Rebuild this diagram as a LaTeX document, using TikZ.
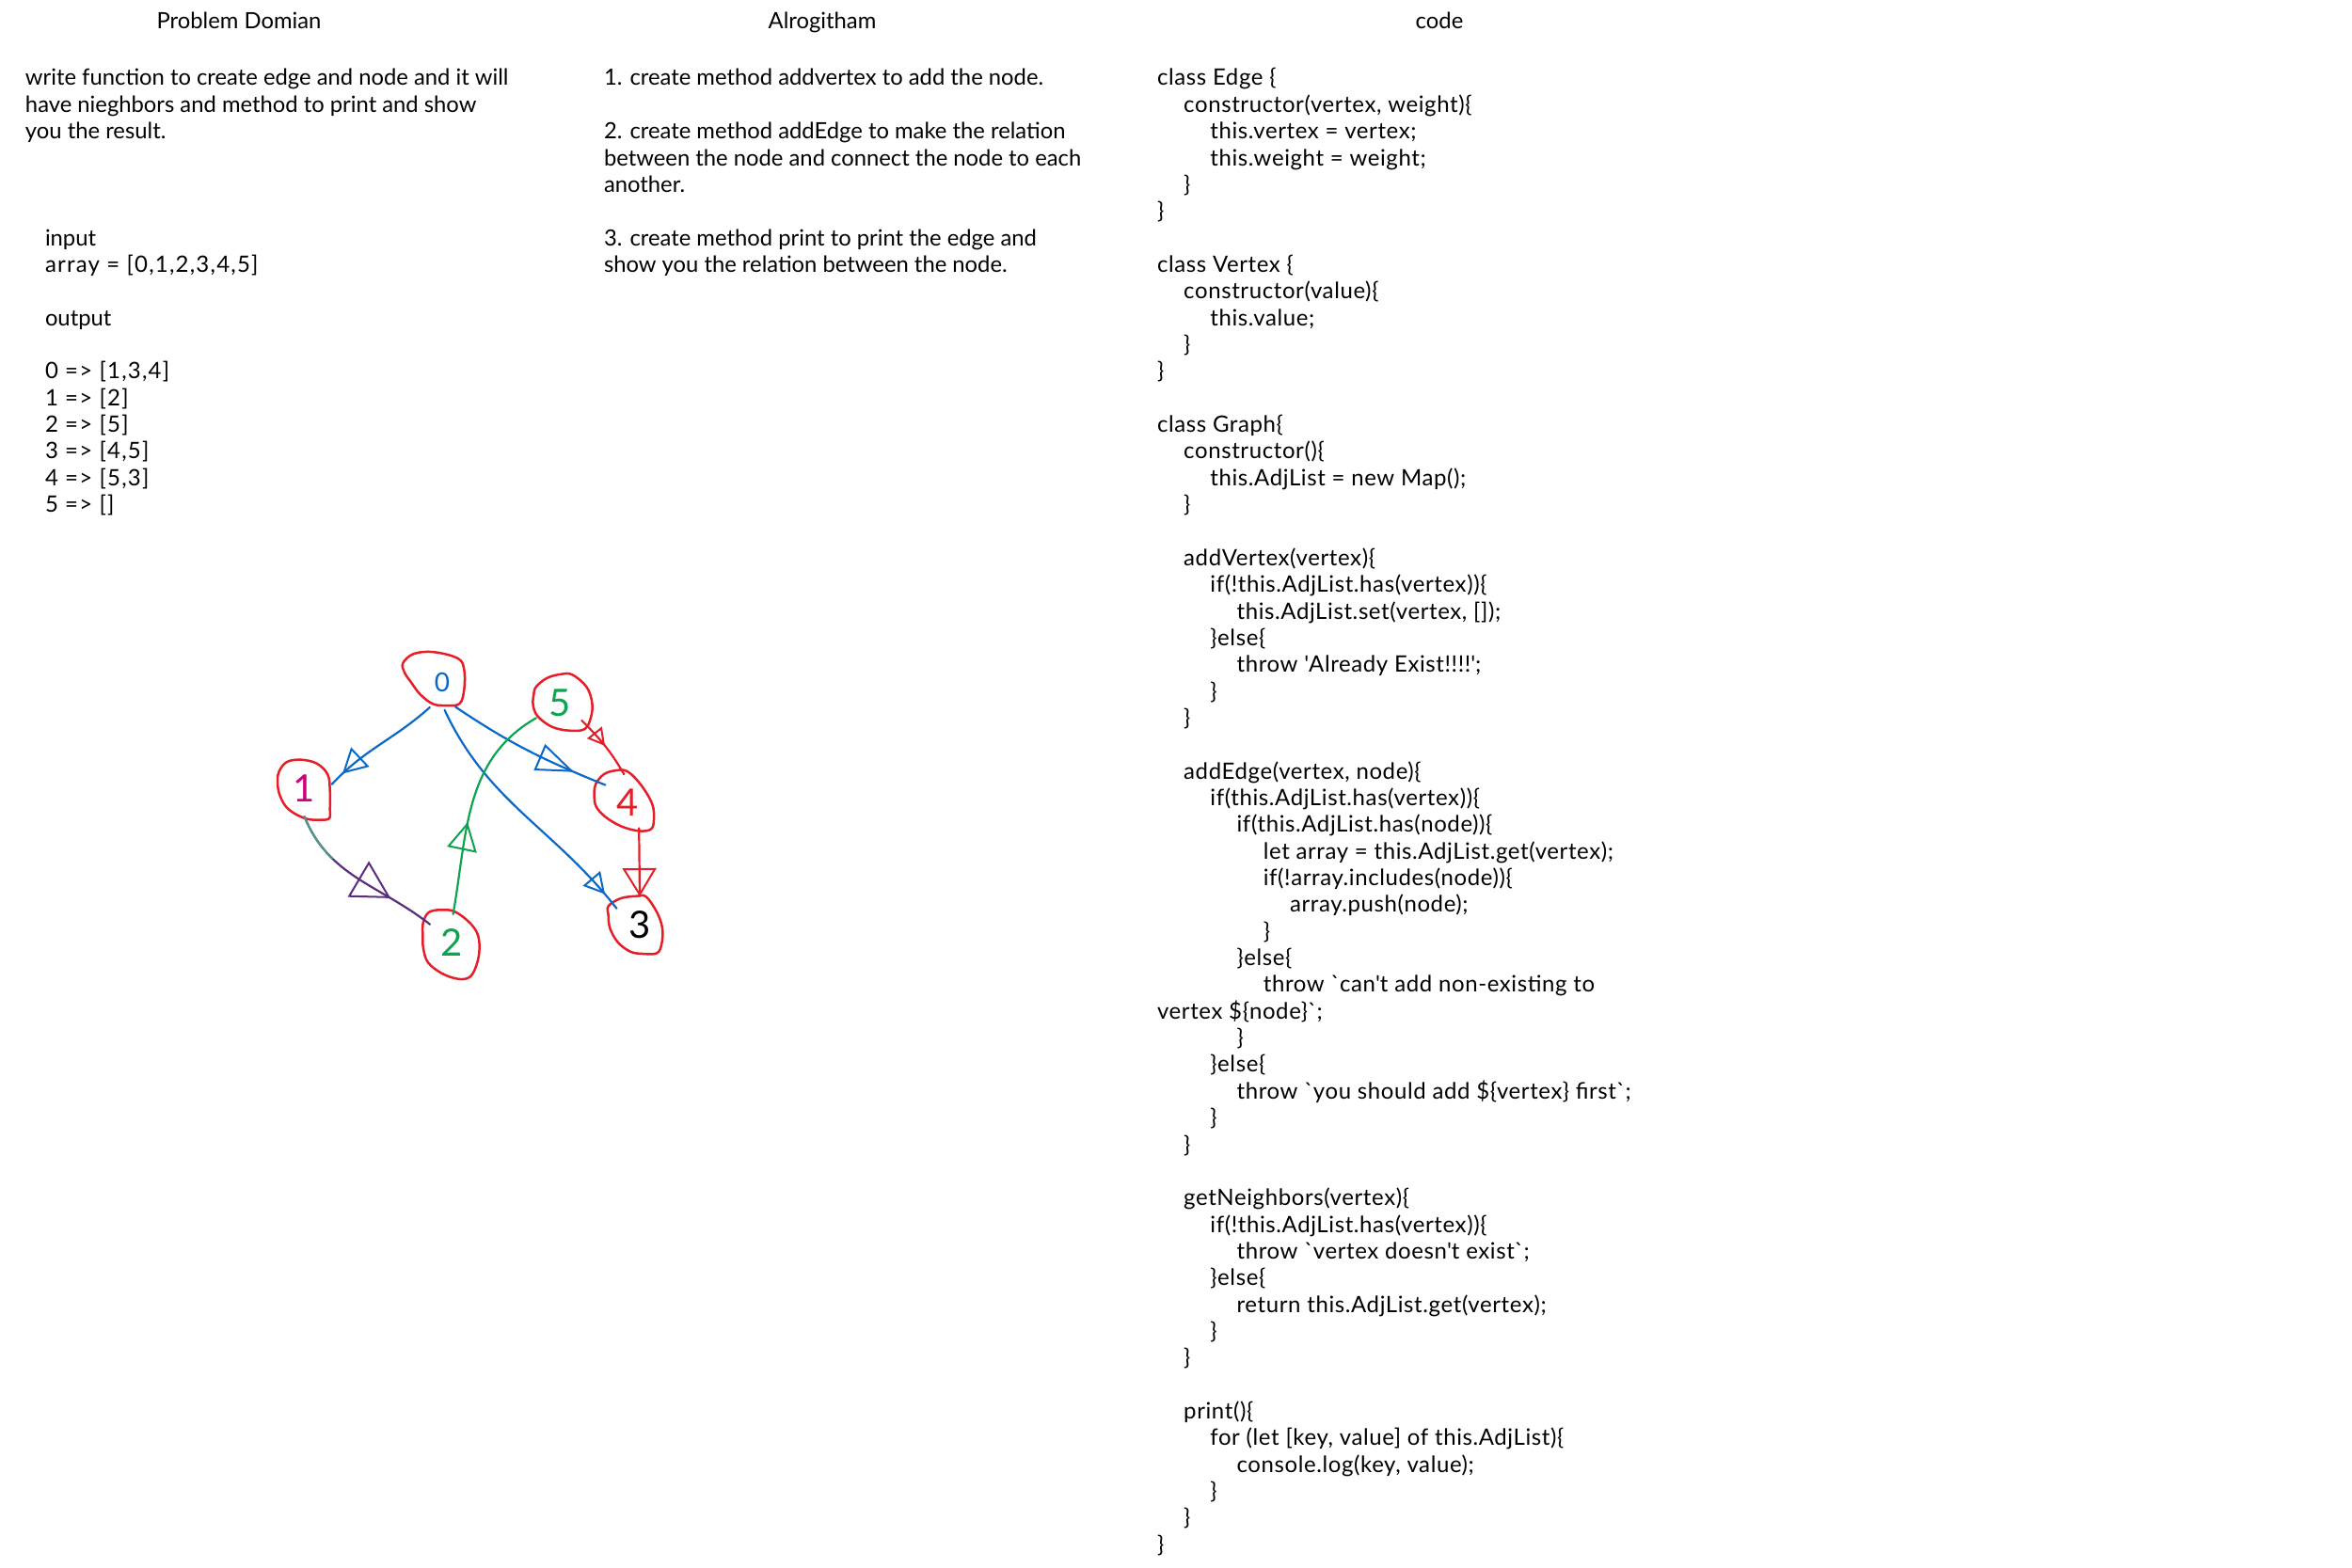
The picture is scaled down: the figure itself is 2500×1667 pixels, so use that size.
\documentclass[tikz,border=0pt]{standalone}
\usepackage{fontspec}
\setmainfont{Lato}
\newfontfamily\codefont{Lato}[LetterSpace=2.5]
\newfontfamily\numfont{Lato}[LetterSpace=5]
\usetikzlibrary{arrows.meta,decorations.markings}
\definecolor{nred}{RGB}{230,30,40}
\definecolor{nblue}{RGB}{10,105,200}
\definecolor{ngreen}{RGB}{14,163,80}
\definecolor{npurple}{RGB}{90,45,130}
\definecolor{nteal}{RGB}{85,150,140}
\definecolor{nmag}{RGB}{205,0,125}
\tikzset{
  txt/.style={anchor=base west, inner sep=0pt, outer sep=0pt, text=black, font=\fontsize{23.8}{28}\selectfont},
  numtxt/.style={anchor=base west, inner sep=0pt, outer sep=0pt, text=black, font=\numfont\fontsize{24}{28}\selectfont},
  codetxt/.style={anchor=base west, inner sep=0pt, outer sep=0pt, text=black, font=\codefont\fontsize{24}{28}\selectfont},
  ttl/.style={anchor=base, inner sep=0pt, outer sep=0pt, text=black, font=\fontsize{23.8}{28}\selectfont},
  gnode/.style={circle, minimum size=60pt, inner sep=0pt, outer sep=0pt, font=\fontsize{40}{40}\selectfont},
  blob/.style={draw=nred, line width=2.5pt, line join=round},
  edge/.style={line width=2.2pt, line cap=round},
  amark/.style args={#1/#2/#3}{postaction={decorate}, decoration={markings,
     mark=at position #1 with {\arrow[line width=2pt]{Triangle[open,length=#2pt,width=#3pt]}}}}
}
\newcommand\cdl[4]{\node[codetxt] (#1) at ({1230+28.2*#3},{91+28.35*#2}) {#4};}
\begin{document}
\begin{tikzpicture}[x={(1pt,0)}, y={(0,-1pt)}]
\useasboundingbox[fill=white] (0,0) rectangle (2500,1667);

% ---------- titles ----------
\node[ttl] (tpd) at (254,31) {Problem Domian};
\node[ttl] (talg) at (874,31) {Alrogitham};
\node[ttl] (tcode) at (1530,31) {code};

% ---------- problem domain ----------
\node[txt] (p1) at (27,91) {write function to create edge and node and it will};
\node[txt] (p2) at (27,119.35) {have nieghbors and method to print and show};
\node[txt] (p3) at (27,147.7) {you the result.};
\node[txt] (in1) at (48,261.1) {input};
\node[numtxt] (in2) at (48,289.45) {array = [0,1,2,3,4,5]};
\node[txt] (out0) at (48,346.15) {output};
\node[numtxt] (o0) at (48,402.85) {0 => [1,3,4]};
\node[numtxt] (o1) at (48,431.2) {1 => [2]};
\node[numtxt] (o2) at (48,459.55) {2 => [5]};
\node[numtxt] (o3) at (48,487.9) {3 => [4,5]};
\node[numtxt] (o4) at (48,516.25) {4 => [5,3]};
\node[numtxt] (o5) at (48,544.6) {5 => []};

% ---------- algorithm ----------
\node[txt] (a1) at (642,91) {1. create method addvertex to add the node.};
\node[txt] (a2) at (642,147.7) {2. create method addEdge to make the relation};
\node[txt] (a3) at (642,176.05) {between the node and connect the node to each};
\node[txt] (a4) at (642,204.4) {another.};
\node[txt] (a5) at (642,261.1) {3. create method print to print the edge and};
\node[txt] (a6) at (642,289.45) {show you the relation between the node.};

% ---------- code ----------
\cdl{c0}{0}{0}{class Edge \{}
\cdl{c1}{1}{1}{constructor(vertex, weight)\{}
\cdl{c2}{2}{2}{this.vertex = vertex;}
\cdl{c3}{3}{2}{this.weight = weight;}
\cdl{c4}{4}{1}{\}}
\cdl{c5}{5}{0}{\}}
\cdl{c7}{7}{0}{class Vertex \{}
\cdl{c8}{8}{1}{constructor(value)\{}
\cdl{c9}{9}{2}{this.value;}
\cdl{c10}{10}{1}{\}}
\cdl{c11}{11}{0}{\}}
\cdl{c13}{13}{0}{class Graph\{}
\cdl{c14}{14}{1}{constructor()\{}
\cdl{c15}{15}{2}{this.AdjList = new Map();}
\cdl{c16}{16}{1}{\}}
\cdl{c18}{18}{1}{addVertex(vertex)\{}
\cdl{c19}{19}{2}{if(!this.AdjList.has(vertex))\{}
\cdl{c20}{20}{3}{this.AdjList.set(vertex, []);}
\cdl{c21}{21}{2}{\}else\{}
\cdl{c22}{22}{3}{throw \textquotesingle Already Exist!!!!\textquotesingle;}
\cdl{c23}{23}{2}{\}}
\cdl{c24}{24}{1}{\}}
\cdl{c26}{26}{1}{addEdge(vertex, node)\{}
\cdl{c27}{27}{2}{if(this.AdjList.has(vertex))\{}
\cdl{c28}{28}{3}{if(this.AdjList.has(node))\{}
\cdl{c29}{29}{4}{let array = this.AdjList.get(vertex);}
\cdl{c30}{30}{4}{if(!array.includes(node))\{}
\cdl{c31}{31}{5}{array.push(node);}
\cdl{c32}{32}{4}{\}}
\cdl{c33}{33}{3}{\}else\{}
\cdl{c34}{34}{4}{throw \textasciigrave can\textquotesingle t add non-existing to}
\cdl{c35}{35}{0}{vertex \$\{node\}\textasciigrave;}
\cdl{c36}{36}{3}{\}}
\cdl{c37}{37}{2}{\}else\{}
\cdl{c38}{38}{3}{throw \textasciigrave you should add \$\{vertex\} first\textasciigrave;}
\cdl{c39}{39}{2}{\}}
\cdl{c40}{40}{1}{\}}
\cdl{c42}{42}{1}{getNeighbors(vertex)\{}
\cdl{c43}{43}{2}{if(!this.AdjList.has(vertex))\{}
\cdl{c44}{44}{3}{throw \textasciigrave vertex doesn\textquotesingle t exist\textasciigrave;}
\cdl{c45}{45}{2}{\}else\{}
\cdl{c46}{46}{3}{return this.AdjList.get(vertex);}
\cdl{c47}{47}{2}{\}}
\cdl{c48}{48}{1}{\}}
\cdl{c50}{50}{1}{print()\{}
\cdl{c51}{51}{2}{for (let [key, value] of this.AdjList)\{}
\cdl{c52}{52}{3}{console.log(key, value);}
\cdl{c53}{53}{2}{\}}
\cdl{c54}{54}{1}{\}}
\cdl{c55}{55}{0}{\}}

% ---------- graph nodes ----------
\node[gnode, text=nblue, font=\fontsize{28}{28}\selectfont] (n0) at (470,725) {0};
\node[gnode, text=nmag] (n1) at (323,838) {1};
\node[gnode, text=ngreen] (n2) at (480,1002) {2};
\node[gnode, text=black] (n3) at (680,983) {3};
\node[gnode, text=nred] (n4) at (667,853) {4};
\node[gnode, text=ngreen] (n5) at (595,747) {5};

% hand-drawn outlines
\draw[blob] plot[smooth cycle, tension=0.6] coordinates {(428.3,705) (440,695) (461.7,693.3) (486.7,700) (493.3,711.7) (493.3,733.3) (488.3,748.3) (473.3,750) (460,748.3) (446.7,738.3) (436.7,725) (430,715)};
\draw[blob] plot[smooth cycle, tension=0.6] coordinates {(296.7,820) (305,810) (320,807.7) (336.7,811.7) (348.3,823.3) (350.7,840) (350.7,860) (350,870) (340,871.7) (326.7,870.7) (313.3,865) (303.3,856.7) (296.7,843.3) (295,830)};
\draw[blob] plot[smooth cycle, tension=0.6] coordinates {(450,980) (456.7,969.3) (473.3,967.3) (485,970) (500,981.7) (508.3,995) (509.3,1013.3) (505,1030) (498.3,1039.3) (486.7,1040.7) (470,1035) (455,1023.3) (450,1008.3) (449.3,993.3)};
\draw[blob] plot[smooth cycle, tension=0.6] coordinates {(646.7,963.3) (660,955) (676.7,952.7) (686.7,953.3) (698.3,970) (704,986.7) (703.3,1003.3) (698.3,1013.3) (683.3,1014) (670,1011.7) (656.7,1001.7) (648.3,986.7) (646.7,973.3)};
\draw[blob] plot[smooth cycle, tension=0.6] coordinates {(633.3,833.3) (641.7,823.3) (653.3,819.3) (666.7,820) (681.7,835) (693.3,855) (695,871.7) (691.7,881.7) (678.3,883.3) (660,878.3) (643.3,868.3) (633.3,856.7) (631.7,843.3)};
\draw[blob] plot[smooth cycle, tension=0.6] coordinates {(570,730) (581.7,720.7) (596.7,716.7) (608.3,717.3) (623.3,730) (629.3,746.7) (628.3,761.7) (621.7,775) (605,776.7) (586.7,772.7) (571.7,761.7) (566.7,750) (567.3,738.3)};

% ---------- connectors ----------
\draw[edge, nblue, amark={0.88/26/28}] (n0.-116) to[out=-138,in=47] (n1.8);
\draw[edge, nblue, amark={0.93/22/24}] (n0.-85) to[out=-65,in=128] (n3.145);
\draw[edge, nblue, amark={0.8/40/30}] (n0.-62) to[out=-34,in=158] (n4.142);
\draw[edge, npurple, amark={0.72/40/44}] (n1.-89) to[out=-68,in=142] (n2.140);
\begin{scope}
\clip (290,840) rectangle (385,912);
\draw[edge, nteal] (n1.-89) to[out=-68,in=142] (n2.140);
\end{scope}
\draw[edge, ngreen, amark={0.42/30/32}] (n2.87) to[out=80,in=-150] (n5.-147);
\draw[edge, nred, amark={0.5/18/20}] (n5.-39) to[out=-45,in=120] (n4.97);
\draw[edge, nred, amark={1/30/36}] (n4.-66) -- (n3.90);
\end{tikzpicture}
\end{document}
